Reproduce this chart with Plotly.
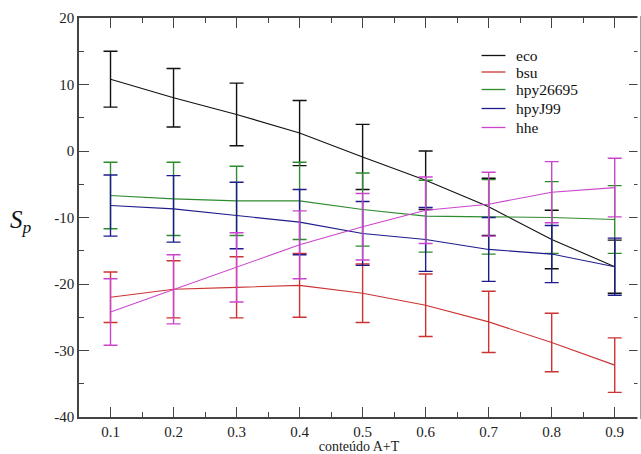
import plotly.graph_objects as go

x = [0.1, 0.2, 0.3, 0.4, 0.5, 0.6, 0.7, 0.8, 0.9]

eco = [10.8, 8.0, 5.5, 2.7, -0.9, -4.4, -8.4, -13.3, -17.4]
eco_err = [4.2, 4.4, 4.7, 4.9, 4.9, 4.4, 4.3, 4.4, 4.0]

bsu = [-22.0, -20.8, -20.5, -20.2, -21.4, -23.2, -25.7, -28.8, -32.2]
bsu_err = [3.8, 4.3, 4.6, 4.8, 4.4, 4.7, 4.6, 4.4, 4.1]

hpy26695 = [-6.7, -7.2, -7.5, -7.5, -8.8, -9.8, -9.9, -10.0, -10.3]
hpy26695_err = [5.0, 5.5, 5.2, 5.8, 5.5, 5.4, 5.6, 5.4, 5.1]

hpyJ99 = [-8.2, -8.7, -9.7, -10.7, -12.4, -13.3, -14.8, -15.5, -17.4]
hpyJ99_err = [4.6, 5.0, 5.0, 4.9, 4.8, 4.8, 4.8, 4.3, 4.3]

hhe = [-24.2, -20.8, -17.5, -14.1, -11.4, -8.9, -8.0, -6.2, -5.5]
hhe_err = [5.0, 5.2, 5.2, 5.1, 5.0, 5.0, 4.8, 4.6, 4.4]

names = ["eco", "bsu", "hpy26695", "hpyJ99", "hhe"]
colors = ["#111111", "#cc3333", "#2e8b2e", "#1c1c8c", "#cc44cc"]
series = [(eco, eco_err), (bsu, bsu_err), (hpy26695, hpy26695_err),
          (hpyJ99, hpyJ99_err), (hhe, hhe_err)]

font_serif = "Liberation Serif, Times New Roman, serif"

# plot area geometry (pixels) used to place the hand-drawn legend
W, H = 641, 454
L, R, T, B = 79, 0, 18, 37
pw, ph = W - L - R, H - T - B
legend_rows_px = [55.5, 72.0, 89.5, 108.5, 127.5]
leg_line_x = (483, 507)
leg_text_x = 516


def px2paper_x(px):
    return (px - L) / pw


def px2paper_y(py):
    return (H - B - py) / ph


fig = go.Figure()
for name, col, (y, e) in zip(names, colors, series):
    fig.add_trace(go.Scatter(
        x=x, y=y, name=name, mode="lines", showlegend=False,
        line=dict(color=col, width=1.1),
        error_y=dict(type="data", array=e, visible=True, color=col,
                     thickness=1.4, width=7),
    ))

shapes = []
annotations = []
for name, col, py in zip(names, colors, legend_rows_px):
    yp = px2paper_y(py)
    shapes.append(dict(type="line", xref="paper", yref="paper",
                       x0=px2paper_x(leg_line_x[0]), x1=px2paper_x(leg_line_x[1]),
                       y0=yp, y1=yp, line=dict(color=col, width=1.3)))
    annotations.append(dict(text=name, xref="paper", yref="paper",
                            x=px2paper_x(leg_text_x), y=yp, xanchor="left",
                            yanchor="middle", showarrow=False,
                            font=dict(size=15.5, family=font_serif, color="#111")))

# hide the right-hand frame line (the reference's frame lies beyond the image edge)
shapes.append(dict(type="line", xref="paper", yref="paper", x0=1, x1=1, y0=-0.01,
                   y1=1.01, line=dict(color="white", width=3), layer="above"))

annotations.append(dict(text="<i>S<sub>p</sub></i>", xref="paper", yref="paper",
                        x=0, y=0.49, xanchor="right", yanchor="middle",
                        xshift=-45, showarrow=False,
                        font=dict(size=25, family=font_serif, color="#111")))

fig.update_layout(
    width=W, height=H,
    margin=dict(l=L, r=R, t=T, b=B),
    paper_bgcolor="white", plot_bgcolor="white",
    font=dict(family=font_serif, size=15, color="#222"),
    showlegend=False,
    xaxis=dict(range=[0.05, 0.9385], tickvals=x,
               ticktext=["0.1", "0.2", "0.3", "0.4", "0.5", "0.6", "0.7", "0.8", "0.9"],
               ticks="inside", ticklen=10, tickwidth=1.3, tickcolor="#444",
               showline=True, linecolor="#444", linewidth=1.5, mirror="allticks",
               showgrid=False, zeroline=False,
               minor=dict(dtick=0.05, tick0=0.05, ticks="inside", ticklen=5,
                          tickcolor="#444", tickwidth=1.2, showgrid=False),
               title=dict(text="conteúdo A+T", font=dict(size=14), standoff=2)),
    yaxis=dict(range=[-40, 20], tickvals=[-40, -30, -20, -10, 0, 10, 20],
               ticktext=["-40", "-30", "-20", "-10", "0", "10", "20"],
               ticks="inside", ticklen=10, tickwidth=1.3, tickcolor="#444",
               showline=True, linecolor="#444", linewidth=1.5, mirror="allticks",
               showgrid=False, zeroline=False,
               minor=dict(dtick=5, ticks="inside", ticklen=5,
                          tickcolor="#444", tickwidth=1.2, showgrid=False)),
    shapes=shapes,
    annotations=annotations,
)

fig.write_html("out.html")
